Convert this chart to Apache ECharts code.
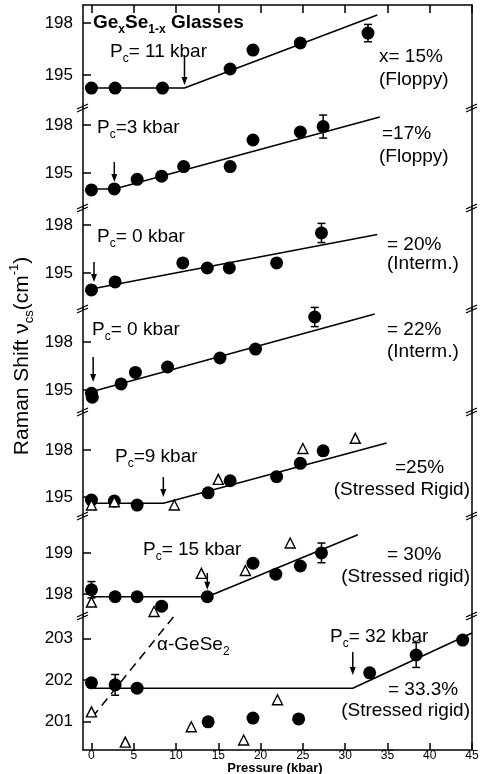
<!DOCTYPE html>
<html>
<head>
<meta charset="utf-8">
<script src="https://cdn.jsdelivr.net/npm/echarts@6/dist/echarts.min.js"></script>
<style>
html, body { margin: 0; padding: 0; background: #fff; }
#chart { width: 484px; height: 774px; }
</style>
</head>
<body>
<div id="chart"></div>
<script>
// x axis: pressure (kbar)
const pressureTicks = [0, 5, 10, 15, 20, 25, 30, 35, 40, 45]

// labels, top panel to bottom panel
const compLabels = ['x= 15%', '=17%', '= 20%', '= 22%', '=25%', '= 30%', '= 33.3%']
const phaseLabels = ['(Floppy)', '(Floppy)', '(Interm.)', '(Interm.)', '(Stressed Rigid)', '(Stressed rigid)', '(Stressed rigid)']
const pcLabels = ['= 11 kbar', '=3 kbar', '= 0 kbar', '= 0 kbar', '=9 kbar', '= 15 kbar', '= 32 kbar']
const yTickValues = [[195, 198], [195, 198], [195, 198], [195, 198], [195, 198], [198, 199], [201, 202, 203]]
const yRanges = [[193.1, 199.04], [192.81, 199.06], [192.75, 199.06], [193.63, 200.06], [193.79, 200.43], [197.46, 199.9], [200.31, 203.54]]

// filled circles [pressure, raman shift]
const dots15 = [[0, 194.25], [2.8, 194.25], [8.4, 194.25], [16.4, 195.35], [19.1, 196.44], [24.7, 196.85], [32.7, 197.42]]
const dots17 = [[0, 193.94], [2.7, 194.0], [5.4, 194.6], [8.3, 194.8], [10.9, 195.4], [16.4, 195.4], [19.1, 197.06], [24.7, 197.56], [27.4, 197.9]]
const dots20 = [[0, 193.94], [2.8, 194.44], [10.8, 195.63], [13.7, 195.31], [16.3, 195.31], [21.9, 195.63], [27.2, 197.5]]
const dots22 = [[0, 194.8], [0.1, 194.55], [3.5, 195.38], [5.2, 196.1], [9.0, 196.44], [15.2, 197.0], [19.4, 197.56], [26.4, 199.56]]
const dots25 = [[0, 194.81], [2.7, 194.74], [5.4, 194.49], [13.8, 195.27], [16.4, 196.04], [21.9, 196.3], [24.7, 197.15], [27.4, 197.95]]
const dots30 = [[0, 198.1], [2.8, 197.93], [5.4, 197.93], [8.3, 197.7], [13.7, 197.93], [19.1, 198.75], [21.8, 198.48], [24.7, 198.68], [27.2, 199.0]]
const dots33 = [[0, 201.93], [2.8, 201.88], [5.4, 201.8], [13.8, 200.99], [19.1, 201.08], [24.5, 201.06], [32.9, 202.17], [38.4, 202.6], [43.9, 202.96]]

// open triangles [pressure, raman shift]
const tris25 = [[0, 194.49], [2.7, 194.7], [9.8, 194.49], [15.0, 196.13], [25.0, 198.1], [31.2, 198.75]]
const tris30 = [[0, 197.8], [7.4, 197.57], [13.0, 198.5], [18.2, 198.57], [23.5, 199.24]]
const tris33 = [[0, 201.23], [4.0, 200.5], [11.8, 200.87], [18.0, 200.55], [22.0, 201.52]]

// error bars [pressure, shift, half-height]
const errs15 = [[32.7, 197.42, 0.5]]
const errs17 = [[27.4, 197.9, 0.72]]
const errs20 = [[27.2, 197.5, 0.6]]
const errs22 = [[26.4, 199.56, 0.6]]
const errs25 = []
const errs30 = [[0, 198.1, 0.2], [27.2, 199.0, 0.24]]
const errs33 = [[2.8, 201.88, 0.25], [38.4, 202.6, 0.3]]

// fitted lines
const fit15 = [[0, 194.25], [11, 194.25], [33.8, 198.46]]
const fit17 = [[0, 194.0], [2.7, 194.0], [34.1, 198.5]]
const fit20 = [[0, 194.0], [33.8, 197.4]]
const fit22 = [[0, 194.9], [33.5, 199.75]]
const fit25 = [[0, 194.6], [8.5, 194.6], [34.9, 198.45]]
const fit30 = [[0, 197.93], [13.7, 197.93], [31.5, 199.44]]
const fit33 = [[0, 201.8], [30.9, 201.8], [45, 203.13]]
const geSe2Line = [[0.1, 201.1], [9.7, 203.52]]

// Pc arrows [pressure, shift at tail, shift at head]
const pcArrows = [[11, 196.15, 194.42], [2.7, 195.69, 194.44], [0.3, 195.69, 194.44], [0.2, 197.06, 195.5], [8.5, 196.28, 195.0], [13.7, 198.51, 198.1], [30.9, 202.67, 202.12]]

const panels = [
  { dots: dots15, tris: [], errs: errs15, fit: fit15 },
  { dots: dots17, tris: [], errs: errs17, fit: fit17 },
  { dots: dots20, tris: [], errs: errs20, fit: fit20 },
  { dots: dots22, tris: [], errs: errs22, fit: fit22 },
  { dots: dots25, tris: tris25, errs: errs25, fit: fit25 },
  { dots: dots30, tris: tris30, errs: errs30, fit: fit30 },
  { dots: dots33, tris: tris33, errs: errs33, fit: fit33 },
]

// panel layout (pixels)
const panelTop = [5, 108, 208, 309, 412, 516, 616]
const panelBottom = [108, 208, 309, 412, 516, 616, 750]
const plotLeft = 83
const plotRight = 472
const FONT = '"Liberation Sans", Arial, sans-serif'

const grid = []
const xAxis = []
const yAxis = []
const series = []

function renderErr(params, api) {
  const x = api.value(0)
  const y = api.value(1)
  const d = api.value(2)
  const t = api.coord([x, y + d])
  const b = api.coord([x, y - d])
  const st = { stroke: '#000', lineWidth: 1.5 }
  return {
    type: 'group',
    children: [
      { type: 'line', shape: { x1: t[0], y1: t[1], x2: b[0], y2: b[1] }, style: st },
      { type: 'line', shape: { x1: t[0] - 4, y1: t[1], x2: t[0] + 4, y2: t[1] }, style: st },
      { type: 'line', shape: { x1: b[0] - 4, y1: b[1], x2: b[0] + 4, y2: b[1] }, style: st },
    ],
  }
}

function renderArrow(params, api) {
  const a = api.coord([api.value(0), api.value(1)])
  const b = api.coord([api.value(0), api.value(2)])
  return {
    type: 'group',
    children: [
      { type: 'line', shape: { x1: a[0], y1: a[1], x2: b[0], y2: b[1] - 4 }, style: { stroke: '#000', lineWidth: 1.5 } },
      { type: 'polygon', shape: { points: [[b[0] - 3, b[1] - 8], [b[0] + 3, b[1] - 8], [b[0], b[1]]] }, style: { fill: '#000' } },
    ],
  }
}

panels.forEach((p, i) => {
  grid.push({ left: plotLeft, width: plotRight - plotLeft, top: panelTop[i], height: panelBottom[i] - panelTop[i] })
  const isBottom = i === panels.length - 1
  xAxis.push({
    type: 'value',
    gridIndex: i,
    min: -1,
    max: 45,
    splitLine: { show: false },
    axisLine: { show: isBottom, onZero: false, lineStyle: { color: '#000', width: 1.5 } },
    axisTick: { show: isBottom, inside: true, length: 7, customValues: pressureTicks, lineStyle: { color: '#000', width: 1.5 } },
    axisLabel: { show: isBottom, customValues: pressureTicks, margin: 0, color: '#000', fontSize: 12, fontFamily: FONT },
  })
  yAxis.push({
    type: 'value',
    gridIndex: i,
    min: yRanges[i][0],
    max: yRanges[i][1],
    splitLine: { show: false },
    axisLine: { show: true, onZero: false, lineStyle: { color: '#000', width: 1.5 } },
    axisTick: { show: true, inside: true, length: 8, customValues: yTickValues[i], lineStyle: { color: '#000', width: 1.5 } },
    axisLabel: { customValues: yTickValues[i], margin: 10, color: '#000', fontSize: 17, fontFamily: FONT },
  })

  series.push({
    type: 'line', xAxisIndex: i, yAxisIndex: i, data: p.fit, symbol: 'none', silent: true, z: 2,
    lineStyle: { color: '#000', width: 1.6 },
  })
  series.push({
    type: 'scatter', xAxisIndex: i, yAxisIndex: i, data: p.dots, symbol: 'circle', symbolSize: 13, z: 3,
    itemStyle: { color: '#000', opacity: 1 },
  })
  if (p.tris.length) {
    series.push({
      type: 'scatter', xAxisIndex: i, yAxisIndex: i, data: p.tris, symbol: 'triangle', symbolSize: 10, z: 4,
      itemStyle: { color: '#fff', borderColor: '#000', borderWidth: 1.4, opacity: 1 },
    })
  }
  if (p.errs.length) {
    series.push({
      type: 'custom', xAxisIndex: i, yAxisIndex: i, data: p.errs, renderItem: renderErr, z: 5,
      encode: { x: 0, y: 1 },
    })
  }
  series.push({
    type: 'custom', xAxisIndex: i, yAxisIndex: i, data: [pcArrows[i]], renderItem: renderArrow, z: 5,
    encode: { x: 0, y: 1 },
  })
})

// right frame line of every panel
panels.forEach((p, i) => {
  yAxis.push({
    type: 'value', gridIndex: i, position: 'right', min: yRanges[i][0], max: yRanges[i][1],
    splitLine: { show: false }, axisTick: { show: false }, axisLabel: { show: false },
    axisLine: { show: true, onZero: false, lineStyle: { color: '#000', width: 1.5 } },
  })
})

// top frame line with ticks
xAxis.push({
  type: 'value', gridIndex: 0, position: 'top', min: -1, max: 45,
  splitLine: { show: false }, axisLabel: { show: false },
  axisLine: { show: true, onZero: false, lineStyle: { color: '#000', width: 1.5 } },
  axisTick: { show: true, inside: true, length: 8, customValues: pressureTicks, lineStyle: { color: '#000', width: 1.5 } },
})

// alpha-GeSe2 dashed line in the bottom panel
series.push({
  type: 'line', xAxisIndex: 6, yAxisIndex: 6, data: geSe2Line, symbol: 'none', silent: true, z: 2,
  lineStyle: { color: '#000', width: 1.5, type: [9, 6] },
})

const sub = { fontSize: 12, lineHeight: 12, verticalAlign: 'bottom', fontFamily: FONT, fill: '#000' }
const sup = { fontSize: 12, lineHeight: 12, verticalAlign: 'top', fontFamily: FONT, fill: '#000' }
const main = { fontSize: 19, lineHeight: 25, fontFamily: FONT, fill: '#000' }

function richText(x, y, text, extra) {
  return {
    type: 'text', x: x, y: y, z: 10, silent: true,
    style: Object.assign({
      text: text,
      align: 'left', verticalAlign: 'middle', textAlign: 'left', textVerticalAlign: 'middle',
      font: '19px ' + FONT, fill: '#000',
      rich: { m: main, s: sub, u: sup },
    }, extra || {}),
  }
}

// text positions (pixels)
const pcPos = [[110, 52], [97, 128], [97, 237], [92, 330], [115, 457], [143, 550], [330, 637]]
const compPos = [[379, 57], [382, 134], [387, 245], [387, 330], [395, 468], [387, 555], [388, 690]]
const phasePos = [[379, 80], [379, 157], [387, 264], [387, 352], [470, 490], [470, 577], [470, 711]]

const graphic = []
pcPos.forEach((pos, i) => {
  graphic.push(richText(pos[0], pos[1], '{m|P}{s|c}{m|' + pcLabels[i] + '}'))
  graphic.push(richText(compPos[i][0], compPos[i][1], '{m|' + compLabels[i] + '}'))
  const right = i >= 4
  graphic.push(richText(phasePos[i][0], phasePos[i][1], '{m|' + phaseLabels[i] + '}',
    right ? { align: 'right', textAlign: 'right' } : null))
})

const bold = Object.assign({}, main, { fontWeight: 'bold', fontSize: 19 })
const boldSub = Object.assign({}, sub, { fontWeight: 'bold', fontSize: 12 })
graphic.push({
  type: 'text', x: 93, y: 23, z: 10, silent: true,
  style: {
    text: '{b|Ge}{bs|x}{b|Se}{bs|1-x}{b| Glasses}',
    align: 'left', verticalAlign: 'middle', textAlign: 'left', textVerticalAlign: 'middle',
    rich: { b: bold, bs: boldSub },
  },
})
graphic.push(richText(157, 645, '{m|\u03b1-GeSe}{s|2}'))

// y axis title
graphic.push({
  type: 'text', x: 22, y: 356, rotation: Math.PI / 2, z: 10, silent: true,
  style: {
    text: '{t|Raman Shift \u03bd}{ts|cs}{t|(cm}{tu|-1}{t|)}',
    align: 'center', verticalAlign: 'middle', textAlign: 'center', textVerticalAlign: 'middle',
    rich: {
      t: { fontSize: 21, lineHeight: 28, fontFamily: FONT, fill: '#000' },
      ts: { fontSize: 13, lineHeight: 13, verticalAlign: 'bottom', fontFamily: FONT, fill: '#000' },
      tu: { fontSize: 13, lineHeight: 13, verticalAlign: 'top', fontFamily: FONT, fill: '#000' },
    },
  },
})

// x axis title
graphic.push({
  type: 'text', x: 275, y: 768, z: 10, silent: true,
  style: {
    text: 'Pressure (kbar)', font: 'bold 13px ' + FONT, fill: '#000',
    align: 'center', verticalAlign: 'middle', textAlign: 'center', textVerticalAlign: 'middle',
  },
})

// axis break marks at panel joins
panelTop.slice(1).forEach((y) => {
  [plotLeft, plotRight].forEach((x) => {
    graphic.push({ type: 'line', z: 11, silent: true, shape: { x1: x - 6, y1: y + 4, x2: x + 5, y2: y - 1 }, style: { stroke: '#000', lineWidth: 1.3 } })
    graphic.push({ type: 'line', z: 11, silent: true, shape: { x1: x - 6, y1: y + 1, x2: x + 5, y2: y - 4 }, style: { stroke: '#000', lineWidth: 1.3 } })
  })
})

const chart = echarts.init(document.getElementById('chart'))
chart.setOption({
  animation: false,
  backgroundColor: '#fff',
  grid: grid,
  xAxis: xAxis,
  yAxis: yAxis,
  series: series,
  graphic: graphic,
})
</script>
</body>
</html>
